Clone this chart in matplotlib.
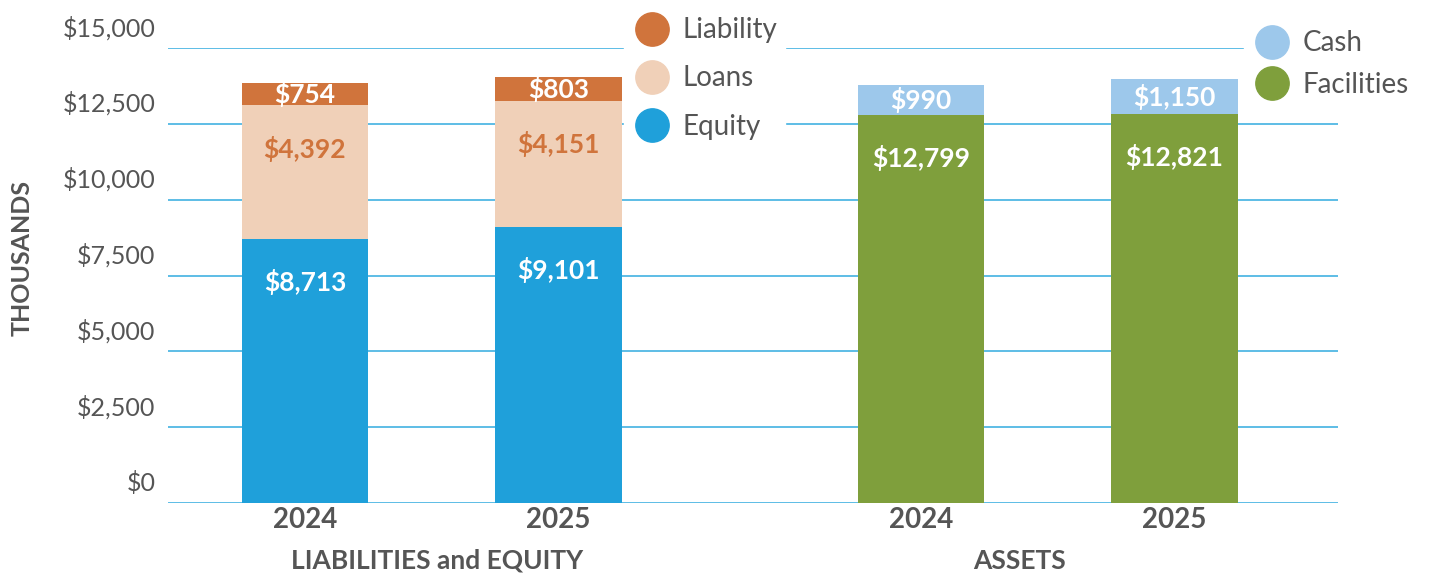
import numpy as np
import matplotlib.pyplot as plt
import matplotlib.transforms as mtransforms
from matplotlib.lines import Line2D

plt.rcParams['font.family'] = ['Lato', 'DejaVu Sans']

# data (thousands of dollars)
years = ['2024', '2025']
equity = [8713, 9101]
loans = [4392, 4151]
liability = [754, 803]
facilities = [12799, 12821]
cash = [990, 1150]

c_liab = '#D0743C'
c_loans = '#F0D0B8'
c_equity = '#1FA0DA'
c_cash = '#9DC8EB'
c_fac = '#7F9F3C'
c_grid = '#5DBDE6'
c_text = '#555555'

fig = plt.figure(figsize=(14.31, 5.75), dpi=100)
ax = fig.add_axes([168/1431, 72/575, (1338-168)/1431, (503-48)/575])

x_left = np.array([0, 1])
x_right = np.array([2.43, 3.43])
w = 0.5

equity = np.array(equity)
loans = np.array(loans)
liability = np.array(liability)
facilities = np.array(facilities)
cash = np.array(cash)

ax.set_ylim(0, 15000)
ax.set_xlim(-0.54, 4.075)
yt = np.arange(0, 15001, 2500)
ax.set_yticks(yt)
ax.set_yticklabels(['${:,}'.format(v) for v in yt])
for v in yt:
    ax.axhline(v, color=c_grid, lw=1.4, zorder=0)

ax.bar(x_left, equity, w, color=c_equity, zorder=2)
ax.bar(x_left, loans, w, bottom=equity, color=c_loans, zorder=2)
ax.bar(x_left, liability, w, bottom=equity + loans, color=c_liab, zorder=2)
ax.bar(x_right, facilities, w, color=c_fac, zorder=2)
ax.bar(x_right, cash, w, bottom=facilities, color=c_cash, zorder=2)


def label_seg(x, bottom, h, color):
    top = bottom + h
    px = h * 455 / 15000
    if px > 70:
        ax.annotate('${:,}'.format(h), (x, top), xytext=(0, -31), textcoords='offset points',
                    ha='center', va='center', color=color, fontsize=19, fontweight='bold', zorder=3)
    else:
        ax.annotate('${:,}'.format(h), (x, bottom + h / 2), xytext=(0, 0), textcoords='offset points',
                    ha='center', va='center', color=color, fontsize=19, fontweight='bold', zorder=3)


for i in range(2):
    label_seg(x_left[i], 0, equity[i], 'white')
    label_seg(x_left[i], equity[i], loans[i], c_liab)
    label_seg(x_left[i], equity[i] + loans[i], liability[i], 'white')
    label_seg(x_right[i], 0, facilities[i], 'white')
    label_seg(x_right[i], facilities[i], cash[i], 'white')

ax.set_xticks(list(x_left) + list(x_right))
ax.set_xticklabels(years + years, fontsize=20, fontweight='bold', color=c_text)
ax.tick_params(axis='x', length=0, pad=3)
ax.tick_params(axis='y', length=0, pad=9, labelsize=18, labelcolor=c_text)
offset = mtransforms.ScaledTranslation(0, 22/100, fig.dpi_scale_trans)
for lab in ax.get_yticklabels():
    lab.set_transform(lab.get_transform() + offset)
for s in ax.spines.values():
    s.set_visible(False)

fig.text(22/1431, 1-258/575, 'THOUSANDS', rotation=90, ha='center', va='center',
         fontsize=18, fontweight='bold', color=c_text)
fig.text(437/1431, 1-561/575, 'LIABILITIES and EQUITY', ha='center', va='center',
         fontsize=19, fontweight='bold', color=c_text)
fig.text(1020/1431, 1-561/575, 'ASSETS', ha='center', va='center',
         fontsize=19, fontweight='bold', color=c_text)


def dot(c):
    return Line2D([], [], marker='o', ls='none', markersize=24, markerfacecolor=c, markeredgecolor=c)


leg1 = fig.legend([dot(c_liab), dot(c_loans), dot(c_equity)], ['Liability', 'Loans', 'Equity'],
                  loc='upper left', bbox_to_anchor=(610/1431, 1+5/575), frameon=True, fontsize=20,
                  labelcolor=c_text, labelspacing=0.8, handletextpad=0.4, borderpad=0.3,
                  handlelength=1.4)
leg1.get_frame().set_facecolor('white')
leg1.get_frame().set_edgecolor('white')
leg1.get_frame().set_alpha(1)
leg2 = fig.legend([dot(c_cash), dot(c_fac)], ['Cash', 'Facilities'],
                  loc='upper left', bbox_to_anchor=(1230/1431, 1-8/575), frameon=True, fontsize=20,
                  labelcolor=c_text, labelspacing=0.57, handletextpad=0.4, borderpad=0.3,
                  handlelength=1.4)
leg2.get_frame().set_facecolor('white')
leg2.get_frame().set_edgecolor('white')
leg2.get_frame().set_alpha(1)

fig.savefig('out.png', dpi=100)
